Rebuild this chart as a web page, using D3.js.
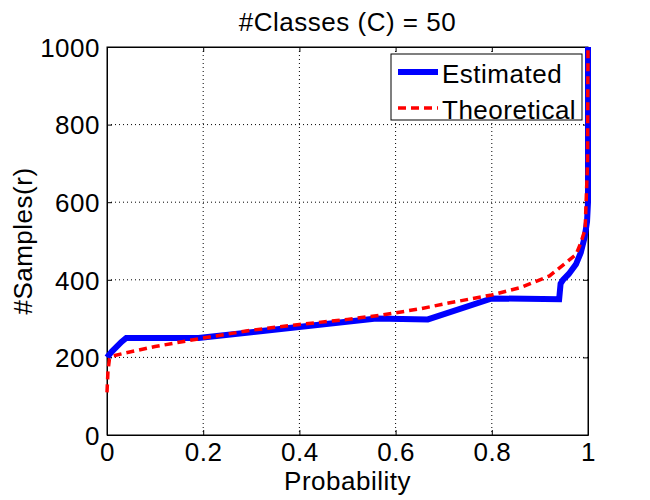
<!DOCTYPE html>
<html>
<head>
<meta charset="utf-8">
<script src="https://cdn.jsdelivr.net/npm/d3@7"></script>
<style>
  body { margin: 0; background: #fff; }
  svg text { font-family: 'Liberation Sans', Arial, sans-serif; fill: #000; letter-spacing: 0.5px; }
  .grid line { stroke: #000; stroke-width: 1; stroke-dasharray: 1,3; }
</style>
</head>
<body>
<div id="chart"></div>
<script>
// values
const title = '#Classes (C) = 50'
const xLabel = 'Probability'
const yLabel = '#Samples(r)'
const seriesNames = ['Estimated', 'Theoretical']

const xTicks = [0, 0.2, 0.4, 0.6, 0.8, 1]
const yTicks = [0, 200, 400, 600, 800, 1000]

const estimatedP = [0, 0.01, 0.03, 0.04, 0.19, 0.30, 0.56, 0.667, 0.80, 0.94, 0.943, 0.948, 0.96, 0.975, 0.985, 0.993, 0.998, 1, 1]
const estimatedR = [200, 215, 240, 250, 250, 265, 300, 298, 352, 350, 390, 400, 415, 440, 470, 510, 550, 600, 1000]

const theoreticalP = [0, 0.002, 0.005, 0.01, 0.04, 0.1, 0.2, 0.3, 0.4, 0.5, 0.57, 0.65, 0.71, 0.8, 0.86, 0.92, 0.95, 0.975, 0.985, 0.994, 0.999, 1]
const theoreticalR = [110, 165, 195, 203, 212, 228, 250, 270, 285, 298, 309, 325, 340, 361, 380, 410, 440, 465, 495, 530, 700, 1000]

const width = 650
const height = 500
const margin = { top: 47, right: 62, bottom: 65, left: 107 }
const innerW = width - margin.left - margin.right
const innerH = height - margin.top - margin.bottom
const fontSize = '26px'

const svg = d3.select('#chart')
  .append('svg')
  .attr('width', width)
  .attr('height', height)

const x = d3.scaleLinear().domain([0, 1]).range([0, innerW])
const y = d3.scaleLinear().domain([0, 1000]).range([innerH, 0])

const g = svg.append('g').attr('transform', `translate(${margin.left},${margin.top})`)

// dotted grid
const grid = g.append('g').attr('class', 'grid')
grid.selectAll('.gx')
  .data(xTicks.slice(1, -1))
  .enter().append('line')
  .attr('x1', d => x(d)).attr('x2', d => x(d))
  .attr('y1', 0).attr('y2', innerH)
grid.selectAll('.gy')
  .data(yTicks.slice(1, -1))
  .enter().append('line')
  .attr('y1', d => y(d)).attr('y2', d => y(d))
  .attr('x1', 0).attr('x2', innerW)

// axes, MATLAB style: ticks inside on all four sides
const fmt = d3.format('~g')
const tickLen = 5

const xAxis = g.append('g')
  .attr('transform', `translate(0,${innerH})`)
  .call(d3.axisBottom(x).tickValues(xTicks).tickFormat(fmt).tickSizeInner(-tickLen).tickSizeOuter(0).tickPadding(8))
const yAxis = g.append('g')
  .call(d3.axisLeft(y).tickValues(yTicks).tickFormat(fmt).tickSizeInner(-tickLen).tickSizeOuter(0).tickPadding(7))
g.append('g')
  .call(d3.axisTop(x).tickValues(xTicks).tickFormat('').tickSizeInner(-tickLen).tickSizeOuter(0))
g.append('g')
  .attr('transform', `translate(${innerW},0)`)
  .call(d3.axisRight(y).tickValues(yTicks).tickFormat('').tickSizeInner(-tickLen).tickSizeOuter(0))

svg.selectAll('.domain').attr('stroke', '#000')
svg.selectAll('.tick line').attr('stroke', '#000')
xAxis.selectAll('text').style('font-size', fontSize).attr('dy', '0.71em')
yAxis.selectAll('text').style('font-size', fontSize).attr('dy', '0.36em')

// frame
g.append('rect')
  .attr('width', innerW).attr('height', innerH)
  .attr('fill', 'none').attr('stroke', '#000')

// series
const line = d3.line().x(d => x(d[0])).y(d => y(d[1]))
const estimated = estimatedP.map((p, i) => [p, estimatedR[i]])
const theoretical = theoreticalP.map((p, i) => [p, theoreticalR[i]])

g.append('path')
  .datum(estimated)
  .attr('d', line)
  .attr('fill', 'none')
  .attr('stroke', '#0000ff')
  .attr('stroke-width', 6)
  .attr('stroke-linejoin', 'miter')

g.append('path')
  .datum(theoretical)
  .attr('d', line)
  .attr('fill', 'none')
  .attr('stroke', '#ff0000')
  .attr('stroke-width', 3.5)
  .attr('stroke-dasharray', '8,5')

// legend
const legend = svg.append('g').attr('transform', 'translate(391,54)')
legend.append('rect')
  .attr('width', 191).attr('height', 66)
  .attr('fill', '#fff').attr('stroke', '#000')
const legendStyles = [
  { color: '#0000ff', w: 6, dash: null },
  { color: '#ff0000', w: 3.5, dash: '8,5' }
]
seriesNames.forEach((name, i) => {
  const ly = 18 + i * 36
  legend.append('line')
    .attr('x1', 7).attr('x2', 47)
    .attr('y1', ly).attr('y2', ly)
    .attr('stroke', legendStyles[i].color)
    .attr('stroke-width', legendStyles[i].w)
    .attr('stroke-dasharray', legendStyles[i].dash)
  legend.append('text')
    .attr('x', 51).attr('y', ly + 11)
    .style('font-size', fontSize)
    .text(name)
})

// title and labels
svg.append('text')
  .attr('x', margin.left + innerW / 2).attr('y', 31)
  .attr('text-anchor', 'middle')
  .style('font-size', fontSize)
  .text(title)

svg.append('text')
  .attr('x', margin.left + innerW / 2).attr('y', 490)
  .attr('text-anchor', 'middle')
  .style('font-size', fontSize)
  .text(xLabel)

svg.append('text')
  .attr('transform', `translate(32,${margin.top + innerH / 2}) rotate(-90)`)
  .attr('text-anchor', 'middle')
  .style('font-size', fontSize)
  .text(yLabel)
</script>
</body>
</html>
